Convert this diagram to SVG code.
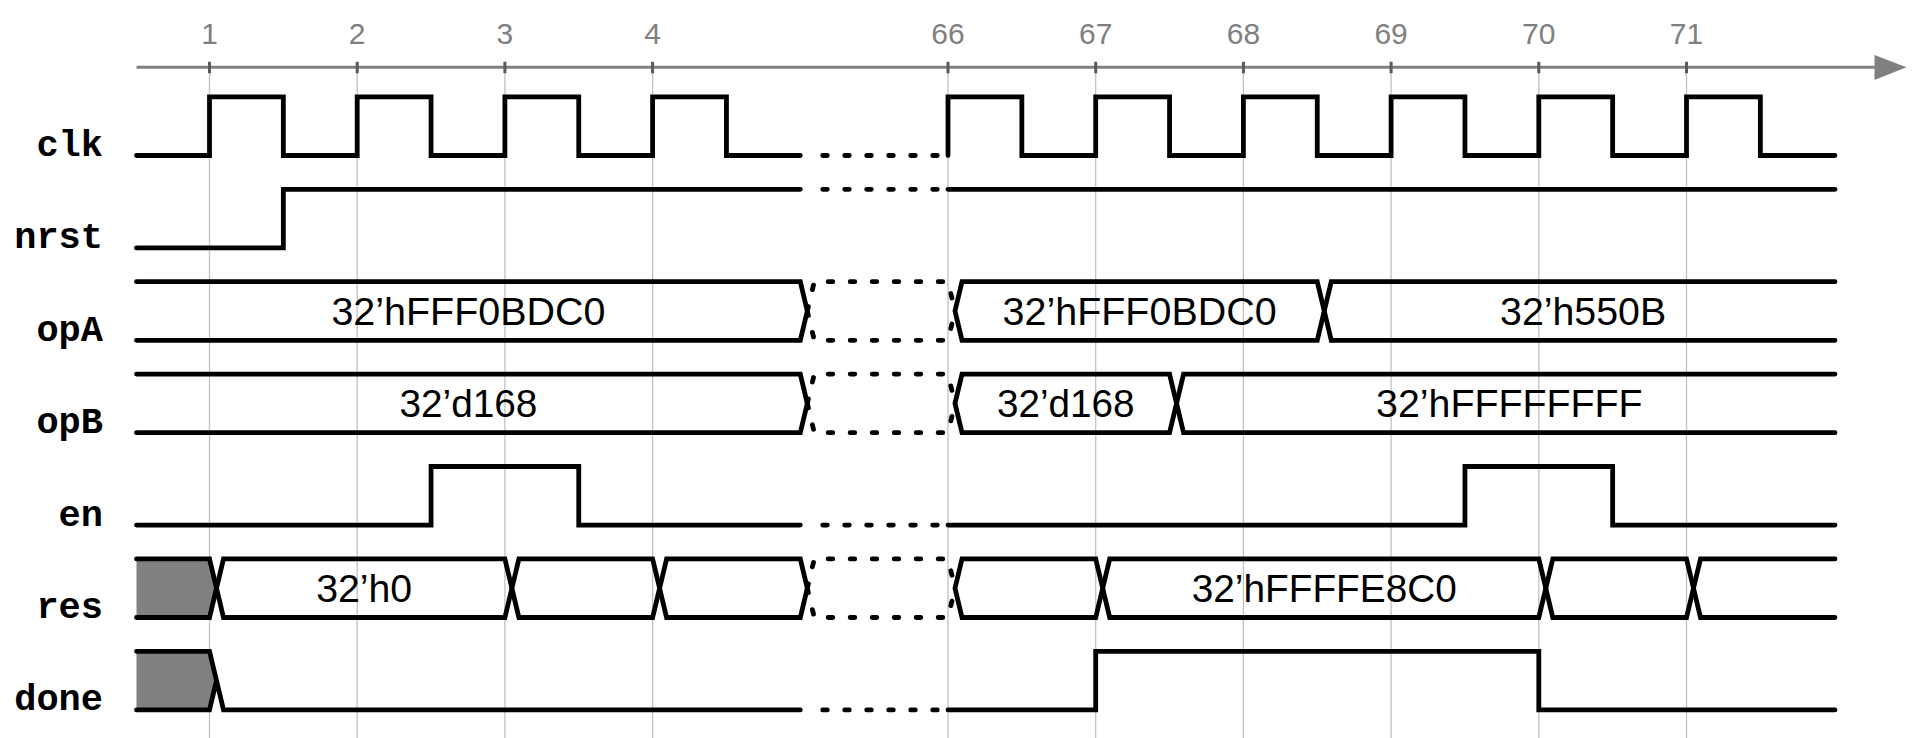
<svg xmlns="http://www.w3.org/2000/svg" width="1919" height="738" viewBox="0 0 1919 738">
<style>
.sig{fill:none;stroke:#000;stroke-width:4.8;stroke-linecap:round;stroke-linejoin:miter}
.dot{fill:none;stroke:#000;stroke-width:4.8;stroke-linecap:round;stroke-dasharray:4.6 17.4}
.grid{stroke:#c2c2c2;stroke-width:1.3}
.tick{stroke:#5a5a5a;stroke-width:3}
.axis{stroke:#808080;stroke-width:3;fill:none}
.tl{font-family:"Liberation Sans",Arial,sans-serif;font-size:30px;fill:#808080;text-anchor:middle}
.name{font-family:"Liberation Mono","Courier New",monospace;font-weight:bold;font-size:37px;text-anchor:end;fill:#000}
.val{font-family:"Liberation Sans",Arial,sans-serif;font-size:38.5px;text-anchor:middle;fill:#000}
.unk{fill:#808080;stroke:none}
</style>
<rect width="1919" height="738" fill="#fff"/>
<g id="grid">
<path class="grid" d="M209.5,67.3V738M357.2,67.3V738M504.9,67.3V738M652.6,67.3V738M948,67.3V738M1095.7,67.3V738M1243.4,67.3V738M1391.1,67.3V738M1538.8,67.3V738M1686.5,67.3V738"/>
</g>
<g id="axis">
<path class="axis" d="M136.5,67.3H1880"/>
<polygon points="1874.5,55 1906.5,67.3 1874.5,80" fill="#808080"/>
<path class="tick" d="M209.5,61.7V73.3M357.2,61.7V73.3M504.9,61.7V73.3M652.6,61.7V73.3M948,61.7V73.3M1095.7,61.7V73.3M1243.4,61.7V73.3M1391.1,61.7V73.3M1538.8,61.7V73.3M1686.5,61.7V73.3"/>
<text class="tl" x="209.5" y="44">1</text>
<text class="tl" x="357.2" y="44">2</text>
<text class="tl" x="504.9" y="44">3</text>
<text class="tl" x="652.6" y="44">4</text>
<text class="tl" x="948" y="44">66</text>
<text class="tl" x="1095.7" y="44">67</text>
<text class="tl" x="1243.4" y="44">68</text>
<text class="tl" x="1391.1" y="44">69</text>
<text class="tl" x="1538.8" y="44">70</text>
<text class="tl" x="1686.5" y="44">71</text>
</g>
<g id="clk">
<text class="name" x="103" y="156">clk</text>
<path class="sig" d="M136.5,155.5H209.5V96.9H283.35V155.5H357.2V96.9H431.05V155.5H504.9V96.9H578.75V155.5H652.6V96.9H726.45V155.5H800.3"/>
<path class="dot" d="M822.7,155.5H948"/>
<path class="sig" d="M948,155.5V96.9H1021.85V155.5H1095.7V96.9H1169.55V155.5H1243.4V96.9H1317.25V155.5H1391.1V96.9H1464.95V155.5H1538.8V96.9H1612.65V155.5H1686.5V96.9H1760.35V155.5H1835"/>
</g>
<g id="nrst">
<text class="name" x="103" y="248">nrst</text>
<path class="sig" d="M136.5,247.9H283.35V189.3H800.3"/>
<path class="dot" d="M822.7,189.3H948"/>
<path class="sig" d="M948,189.3H1835"/>
</g>
<g id="opA">
<text class="name" x="103" y="341">opA</text>
<path class="sig" d="M136.5,281.7H800.3L807.3,311L800.3,340.3H136.5"/>
<path class="dot" d="M807.3,311L814.3,281.7H948L955,311M807.3,311L814.3,340.3H948L955,311"/>
<path class="sig" d="M955,311L962,281.7H1317.25L1324.25,311L1317.25,340.3H962Z"/>
<path class="sig" d="M1324.25,311L1331.25,281.7H1835M1324.25,311L1331.25,340.3H1835"/>
<text class="val" x="468.4" y="324.8" textLength="274" lengthAdjust="spacingAndGlyphs">32’hFFF0BDC0</text>
<text class="val" x="1139.6" y="324.8" textLength="274" lengthAdjust="spacingAndGlyphs">32’hFFF0BDC0</text>
<text class="val" x="1583.1" y="324.8" textLength="166" lengthAdjust="spacingAndGlyphs">32’h550B</text>
</g>
<g id="opB">
<text class="name" x="103" y="433">opB</text>
<path class="sig" d="M136.5,374.1H800.3L807.3,403.4L800.3,432.7H136.5"/>
<path class="dot" d="M807.3,403.4L814.3,374.1H948L955,403.4M807.3,403.4L814.3,432.7H948L955,403.4"/>
<path class="sig" d="M955,403.4L962,374.1H1169.55L1176.55,403.4L1169.55,432.7H962Z"/>
<path class="sig" d="M1176.55,403.4L1183.55,374.1H1835M1176.55,403.4L1183.55,432.7H1835"/>
<text class="val" x="468.4" y="417.2" textLength="138" lengthAdjust="spacingAndGlyphs">32’d168</text>
<text class="val" x="1065.8" y="417.2" textLength="137.5" lengthAdjust="spacingAndGlyphs">32’d168</text>
<text class="val" x="1509.3" y="417.2" textLength="266.5" lengthAdjust="spacingAndGlyphs">32’hFFFFFFFF</text>
</g>
<g id="en">
<text class="name" x="103" y="525.5">en</text>
<path class="sig" d="M136.5,525.1H431.05V466.5H578.75V525.1H800.3"/>
<path class="dot" d="M822.7,525.1H948"/>
<path class="sig" d="M948,525.1H1464.95V466.5H1612.65V525.1H1835"/>
</g>
<g id="res">
<text class="name" x="103" y="617.5">res</text>
<polygon class="unk" points="136.5,558.9 209.5,558.9 216.5,588.2 209.5,617.5 136.5,617.5"/>
<path class="sig" d="M136.5,558.9H209.5L216.5,588.2L209.5,617.5H136.5"/>
<path class="sig" d="M216.5,588.2L223.5,558.9H504.9L511.9,588.2L504.9,617.5H223.5Z"/>
<path class="sig" d="M511.9,588.2L518.9,558.9H652.6L659.6,588.2L652.6,617.5H518.9Z"/>
<path class="sig" d="M659.6,588.2L666.6,558.9H800.3L807.3,588.2L800.3,617.5H666.6Z"/>
<path class="dot" d="M807.3,588.2L814.3,558.9H948L955,588.2M807.3,588.2L814.3,617.5H948L955,588.2"/>
<path class="sig" d="M955,588.2L962,558.9H1095.7L1102.7,588.2L1095.7,617.5H962Z"/>
<path class="sig" d="M1102.7,588.2L1109.7,558.9H1538.8L1545.8,588.2L1538.8,617.5H1109.7Z"/>
<path class="sig" d="M1545.8,588.2L1552.8,558.9H1686.5L1693.5,588.2L1686.5,617.5H1552.8Z"/>
<path class="sig" d="M1693.5,588.2L1700.5,558.9H1835M1693.5,588.2L1700.5,617.5H1835"/>
<text class="val" x="364.2" y="602" textLength="96" lengthAdjust="spacingAndGlyphs">32’h0</text>
<text class="val" x="1324.25" y="602" textLength="265" lengthAdjust="spacingAndGlyphs">32’hFFFFE8C0</text>
</g>
<g id="done">
<text class="name" x="103" y="710">done</text>
<polygon class="unk" points="136.5,651.3 209.5,651.3 216.5,680.6 209.5,709.9 136.5,709.9"/>
<path class="sig" d="M136.5,651.3H209.5L223.5,709.9H800.3M136.5,709.9H209.5L216.5,680.6"/>
<path class="dot" d="M822.7,709.9H948"/>
<path class="sig" d="M948,709.9H1095.7V651.3H1538.8V709.9H1835"/>
</g>
</svg>
